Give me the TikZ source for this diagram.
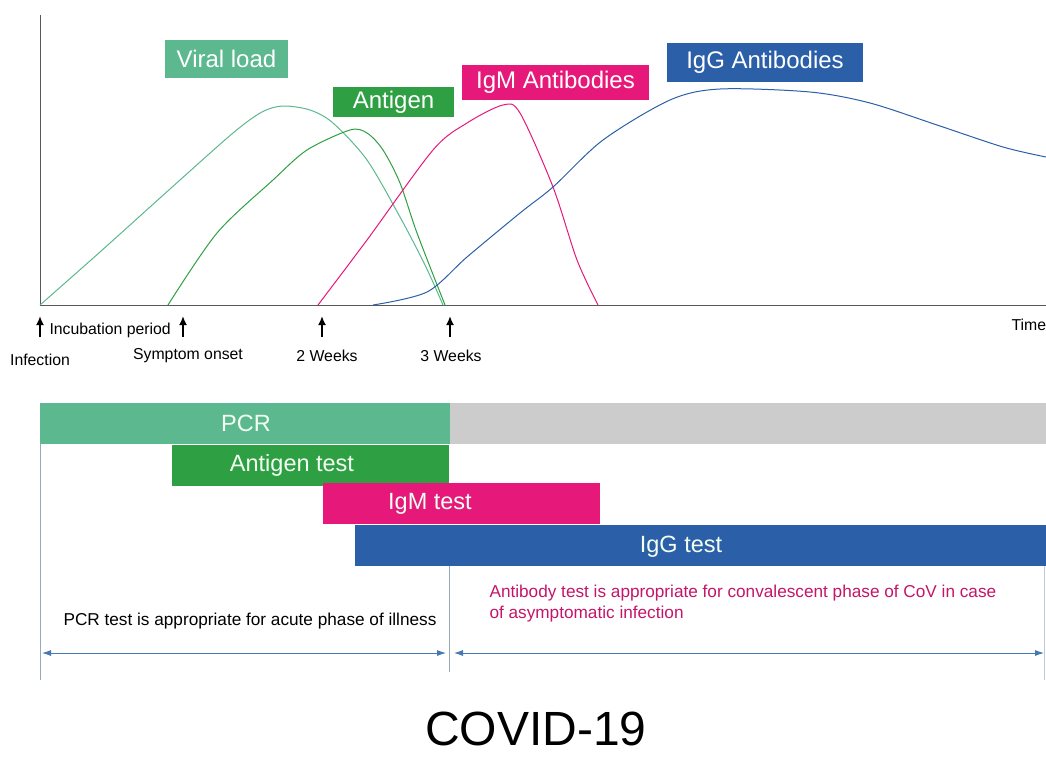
\documentclass[tikz,border=0pt]{standalone}
\usepackage{fontspec}
\setmainfont{Liberation Sans}
\usepackage{tikz}
\usetikzlibrary{shapes,arrows,arrows.meta,positioning,calc}
\definecolor{viral}{RGB}{92,184,142}
\definecolor{antigen}{RGB}{46,160,67}
\definecolor{igm}{RGB}{230,25,122}
\definecolor{igg}{RGB}{43,95,168}
\definecolor{rest}{RGB}{204,204,204}
\definecolor{span}{RGB}{70,120,180}
\definecolor{guide}{RGB}{150,170,190}
\tikzstyle{tag} = [rectangle, inner sep=0pt, text=white, font=\fontsize{24}{26}\selectfont]
\tikzstyle{bar} = [rectangle, inner sep=0pt, anchor=north west, minimum height=41pt]
\tikzstyle{bartext} = [text=white!95!green, font=\fontsize{23.5}{25}\selectfont]
\tikzstyle{curve} = [line width=1pt]
\tikzstyle{small} = [font=\fontsize{15.8}{18}\selectfont, text=black]
\tikzstyle{note} = [font=\fontsize{17.2}{21}\selectfont, align=left]
\tikzstyle{up} = [draw, line width=1.8pt, -{Latex[length=9pt,width=8pt]}]
\tikzstyle{arr} = [draw, line width=0.8pt, {Latex[length=9pt,width=6pt]}-{Latex[length=9pt,width=6pt]}, color=span]

\begin{document}
\begin{tikzpicture}[x=1pt, y=-1pt]
    \useasboundingbox (0,0) rectangle (1046,756);
    % axes
    \coordinate (top) at (40,15);
    \coordinate (origin) at (40,305);
    \coordinate (xend) at (1046,305);
    \draw [line width=1pt, black!65] (top) -- (origin) -- (xend);

    \draw [curve, viral] plot [smooth, tension=0.5] coordinates {(40,305) (100,252) (170,189) (233,133) (262,112) (283,106) (310,110) (333,123) (367,160) (400,217) (425,265) (443,305)};
    \draw [curve, antigen] plot [smooth, tension=0.5] coordinates {(168,305) (217,233) (273,180) (307,150) (350,130) (367,133) (383,150) (400,183) (417,233) (445,305)};
    \draw [curve, igm] plot [smooth, tension=0.5] coordinates {(318,305) (367,240) (433,150) (467,123) (503,105) (520,113) (553,187) (577,260) (598,305)};
    \draw [curve, igg] plot [smooth, tension=0.5] coordinates {(373,305) (427,292) (467,257) (520,213) (553,187) (603,140) (670,100) (720,89) (810,92) (870,103) (937,125) (1003,147) (1046,157)};

    \node at (226.5,59) [tag, name=viralt, fill=viral, minimum width=123pt, minimum height=38pt] {Viral load};
    \node at (393.5,102) [tag, name=antigent, fill=antigen, minimum width=121pt, minimum height=30pt] {Antigen};
    \node at (555.5,82.5) [tag, name=igmt, fill=igm, minimum width=187pt, minimum height=35pt] {IgM Antibodies};
    \node at (765,62.5) [tag, name=iggt, fill=igg, minimum width=196pt, minimum height=39pt] {IgG Antibodies};

    % time points
    \coordinate (inf) at (40,316);
    \coordinate (onset) at (183,316);
    \coordinate (wk2) at (322,316);
    \coordinate (wk3) at (450,316);
    \draw [up] ($(inf)+(0,21)$) -- (inf);
    \draw [up] ($(onset)+(0,21)$) -- (onset);
    \draw [up] ($(wk2)+(0,21)$) -- (wk2);
    \draw [up] ($(wk3)+(0,21)$) -- (wk3);
    \node at (46,330) [small, anchor=west] (incub) {Incubation period};
    \node at (40,360) [small] (infection) {Infection};
    \node at (188,356) [small] (symptom) {Symptom onset};
    \node at (327,356) [small] (week2) {2 Weeks};
    \node at (451,356) [small] (week3) {3 Weeks};
    \node at (1008,325) [small, anchor=west] (time) {Time};

    % tests
    \node at (40,403) [bar, name=pcr, fill=viral, minimum width=410pt] {};
    \node at (450,403) [bar, name=late, fill=rest, minimum width=596pt] {};
    \node at (172,445) [bar, name=agtest, fill=antigen, minimum width=277pt] {};
    \node at (323,483) [bar, name=igmtest, fill=igm, minimum width=277pt] {};
    \node at (355,525) [bar, name=iggtest, fill=igg, minimum width=691pt] {};
    \node at (246,423.5) [bartext] {PCR};
    \node at (292,465.5) [bartext] {Antigen test};
    \node at (430,503.5) [bartext] {IgM test};
    \node at (681,547) [bartext] {IgG test};

    \draw [guide, line width=0.8pt] (pcr.south west) -- ++(0,236);
    \draw [guide, line width=0.8pt] (agtest.south east |- iggtest.south) -- ++(0,106);
    \draw [guide!60, line width=0.8pt] (iggtest.south east) ++(-2,0) -- ++(0,114);

    \node at (250,621) [note, text=black] (acute) {PCR test is appropriate for acute phase of illness};
    \node at (486,604) [note, text=igm!85!black, anchor=west] (conval) {Antibody test is appropriate for convalescent phase of CoV in case\\of asymptomatic infection};
    \coordinate (a1) at (42,653);
    \coordinate (a2) at (446,653);
    \coordinate (b1) at (454,653);
    \coordinate (b2) at (1044,653);
    \draw [arr] (a1) -- (a2);
    \draw [arr] (b1) -- (b2);

    \node at (536,729) [font=\fontsize{48}{50}\selectfont] (title) {COVID-19};
\end{tikzpicture}
\end{document}
